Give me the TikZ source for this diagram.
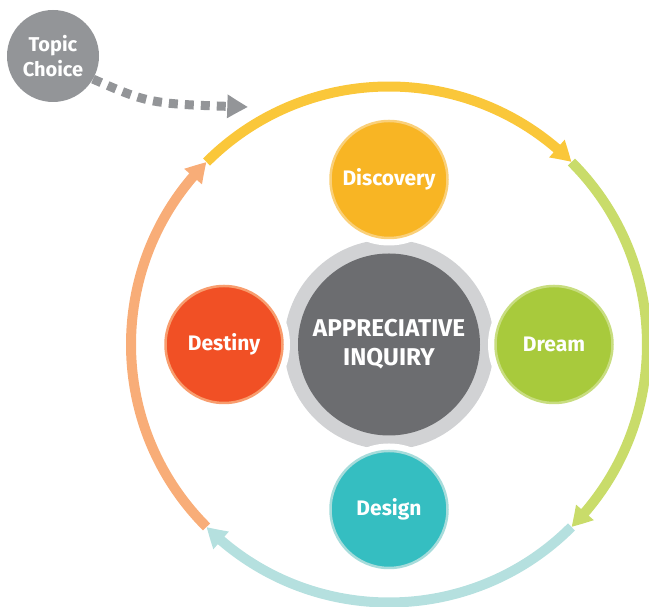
\documentclass[tikz,border=0pt]{standalone}
\usepackage{fontspec}
\setmainfont{Fira Sans}
\usetikzlibrary{arrows.meta,bending,calc}
\definecolor{discfill}{HTML}{F8B524}
\definecolor{discedge}{HTML}{FAD07A}
\definecolor{discarc}{HTML}{FAC73A}
\definecolor{dreamfill}{HTML}{A8CA3C}
\definecolor{dreamedge}{HTML}{C8DD80}
\definecolor{dreamarc}{HTML}{C9DC6A}
\definecolor{desfill}{HTML}{35BEC1}
\definecolor{desedge}{HTML}{A7DCDB}
\definecolor{desarc}{HTML}{B5E0DF}
\definecolor{destfill}{HTML}{F15025}
\definecolor{destedge}{HTML}{F89D6E}
\definecolor{destarc}{HTML}{F8AD78}
\definecolor{coredark}{HTML}{6C6D70}
\definecolor{corering}{HTML}{D1D2D4}
\definecolor{topicgray}{HTML}{939598}
\tikzset{
  phase/.style={circle, minimum size=117pt, inner sep=0pt, line width=2.5pt,
    text=white, font=\fontsize{21}{24}\selectfont\bfseries},
  cyclearc/.style={line width=10pt, -{Triangle[length=20pt,width=22pt,bend]}},
  topicnode/.style={circle, fill=topicgray, minimum size=92pt, inner sep=0pt,
    text=white, align=center, font=\fontsize{20}{25}\selectfont\bfseries},
  corenode/.style={circle, fill=coredark, minimum size=182pt, inner sep=0pt,
    text=white, align=center, font=\fontsize{24.3}{29}\selectfont\bfseries},
}
\begin{document}
\begin{tikzpicture}[x=1pt,y=1pt]
\useasboundingbox (0,0) rectangle (649,607);
\coordinate (C) at (389,262.5);
\def\R{258}
% cycle arcs
\draw[cyclearc, draw=dreamarc] ($(C)+(45:\R)$) arc[start angle=45, end angle=-45, radius=\R];
\draw[cyclearc, draw=desarc] ($(C)+(-45:\R)$) arc[start angle=-45, end angle=-135, radius=\R];
\draw[cyclearc, draw=destarc] ($(C)+(-135:\R)$) arc[start angle=-135, end angle=-225, radius=\R];
\draw[cyclearc, draw=discarc] ($(C)+(135:\R)$) arc[start angle=135, end angle=45, radius=\R];
% core ring with notches
\fill[corering] (C) circle[radius=105];
\foreach \a in {0,90,180,270}{\fill[white] ($(C)+(\a:165)$) circle[radius=66];}
\node[corenode] (core) at (C) {APPRECIATIVE\\INQUIRY};
% phases
\node[phase, fill=discfill, draw=discedge] (disc) at ($(C)+(90:165)$) {Discovery};
\node[phase, fill=dreamfill, draw=dreamedge] (dream) at ($(C)+(0:165)$) {Dream};
\node[phase, fill=desfill, draw=desedge] (design) at ($(C)+(270:165)$) {Design};
\node[phase, fill=destfill, draw=destedge] (destiny) at ($(C)+(180:165)$) {Destiny};
% topic choice
\node[topicnode] (topic) at (53,551) {Topic\\Choice};
\coordinate (entry) at (248,500);
\draw[topicgray, line width=9pt, dash pattern=on 9pt off 7pt,
  -{Triangle[length=21pt,width=22pt,bend]}]
  (topic.-30) .. controls (150,503) .. (entry);
\end{tikzpicture}
\end{document}
